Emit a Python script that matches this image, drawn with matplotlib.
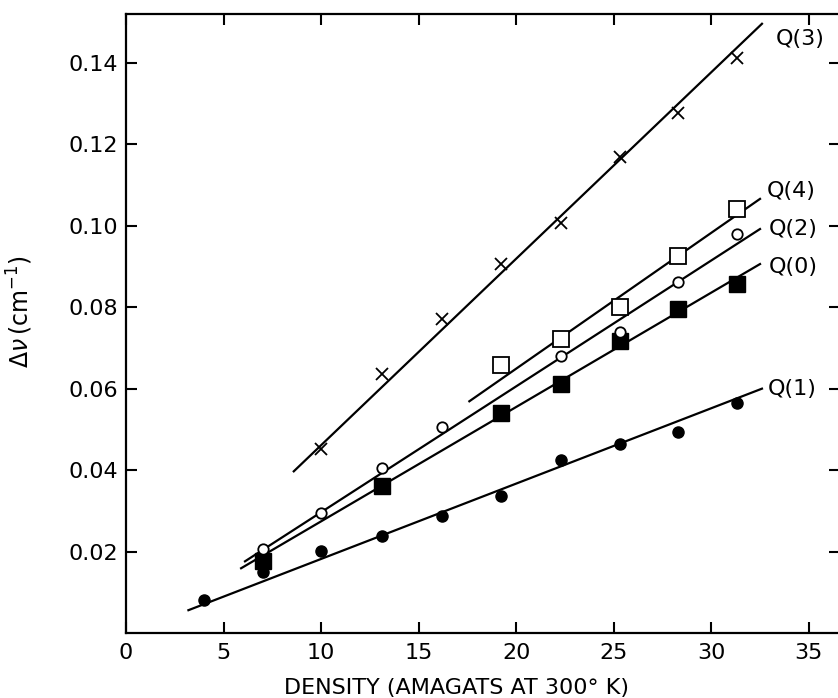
import numpy as np
import matplotlib
matplotlib.use("Agg")
import matplotlib.pyplot as plt

# ---------------- data ----------------
# Q(1): filled circles
q1_x = [4.0, 7.0, 10.0, 13.1, 16.2, 19.2, 22.3, 25.3, 28.3, 31.3]
q1_y = [0.0081, 0.0150, 0.0201, 0.0238, 0.0287, 0.0336, 0.0426, 0.0463, 0.0493, 0.0564]
q1_fit_x = [3.2, 32.6]
q1_fit_y = [0.0056, 0.0600]

# Q(0): filled squares
q0_x = [7.0, 13.1, 19.2, 22.3, 25.3, 28.3, 31.3]
q0_y = [0.0177, 0.0360, 0.0539, 0.0612, 0.0718, 0.0796, 0.0857]
q0_fit_x = [5.9, 32.5]
q0_fit_y = [0.0159, 0.0906]

# Q(2): open circles
q2_x = [7.0, 10.0, 13.1, 16.2, 22.3, 25.3, 28.3, 31.3]
q2_y = [0.0206, 0.0294, 0.0404, 0.0505, 0.0679, 0.0740, 0.0861, 0.0980]
q2_fit_x = [6.1, 32.5]
q2_fit_y = [0.0176, 0.0992]

# Q(4): open squares
q4_x = [19.2, 22.3, 25.3, 28.3, 31.3]
q4_y = [0.0657, 0.0723, 0.0801, 0.0926, 0.1041]
q4_fit_x = [17.6, 32.5]
q4_fit_y = [0.0569, 0.1066]

# Q(3): crosses
q3_x = [10.0, 13.1, 16.2, 19.2, 22.3, 25.3, 28.3, 31.3]
q3_y = [0.0453, 0.0637, 0.0771, 0.0906, 0.1006, 0.1168, 0.1278, 0.1411]
q3_fit_x = [8.6, 32.6]
q3_fit_y = [0.0397, 0.1496]

x_ticks = [0, 5, 10, 15, 20, 25, 30, 35]
y_ticks = [0.02, 0.04, 0.06, 0.08, 0.10, 0.12, 0.14]
y_tick_labels = ["0.02", "0.04", "0.06", "0.08", "0.10", "0.12", "0.14"]
series_labels = ["Q(3)", "Q(4)", "Q(2)", "Q(0)", "Q(1)"]

# ---------------- figure ----------------
W, H = 838, 698
fig = plt.figure(figsize=(W / 100, H / 100), dpi=100)
left_px, right_px, bottom_px, top_px = 126, 840, 633, 14
ax = fig.add_axes([left_px / W, (H - bottom_px) / H,
                   (right_px - left_px) / W, (bottom_px - top_px) / H])
ax.set_xlim(0, 36.6)
ax.set_ylim(0, 0.152)

lw = 1.6
k = "black"

# lines
ax.plot(q1_fit_x, q1_fit_y, color=k, lw=lw)
ax.plot(q0_fit_x, q0_fit_y, color=k, lw=lw)
ax.plot(q2_fit_x, q2_fit_y, color=k, lw=lw)
ax.plot(q4_fit_x, q4_fit_y, color=k, lw=lw)
ax.plot(q3_fit_x, q3_fit_y, color=k, lw=lw)

# markers
ax.plot(q1_x, q1_y, "o", ms=8, color=k, zorder=3)
ax.plot(q0_x, q0_y, "s", ms=11, color=k, zorder=3)
ax.plot(q2_x, q2_y, "o", ms=7.5, mfc="white", mec=k, mew=1.3, zorder=4)
ax.plot(q4_x, q4_y, "s", ms=11, mfc="white", mec=k, mew=1.3, zorder=4)
ax.plot(q3_x, q3_y, "x", ms=9, color=k, mew=1.3, zorder=4)

# series labels at the line ends
fs_lab = 16
ends = [(q3_fit_x[1], q3_fit_y[1], (10, -11)),
        (q4_fit_x[1], q4_fit_y[1], (5, 6)),
        (q2_fit_x[1], q2_fit_y[1], (6, 0)),
        (q0_fit_x[1], q0_fit_y[1], (6, -2)),
        (q1_fit_x[1], q1_fit_y[1], (4, 0))]
for lab, (ex, ey, off) in zip(series_labels, ends):
    ax.annotate(lab, (ex, ey), xytext=off, textcoords="offset points",
                ha="left", va="center", fontsize=fs_lab)

# axes styling
for s in ax.spines.values():
    s.set_linewidth(1.6)
ax.set_xticks(x_ticks)
ax.set_xticklabels([str(t) for t in x_ticks])
ax.set_yticks(y_ticks)
ax.set_yticklabels(y_tick_labels)
ax.tick_params(direction="in", length=8, width=1.5, top=True, right=True,
               labelsize=16, pad=7)
ax.tick_params(axis="y", pad=6)

ax.set_xlabel("DENSITY (AMAGATS AT 300° K)", fontsize=16)
ax.xaxis.set_label_coords(0.463, -0.072)
ax.set_ylabel(r"$\Delta\nu\,$(cm$^{-1}$)", fontsize=17)
ax.yaxis.set_label_coords(-0.128, 0.52)

fig.savefig("out.png", dpi=100)
